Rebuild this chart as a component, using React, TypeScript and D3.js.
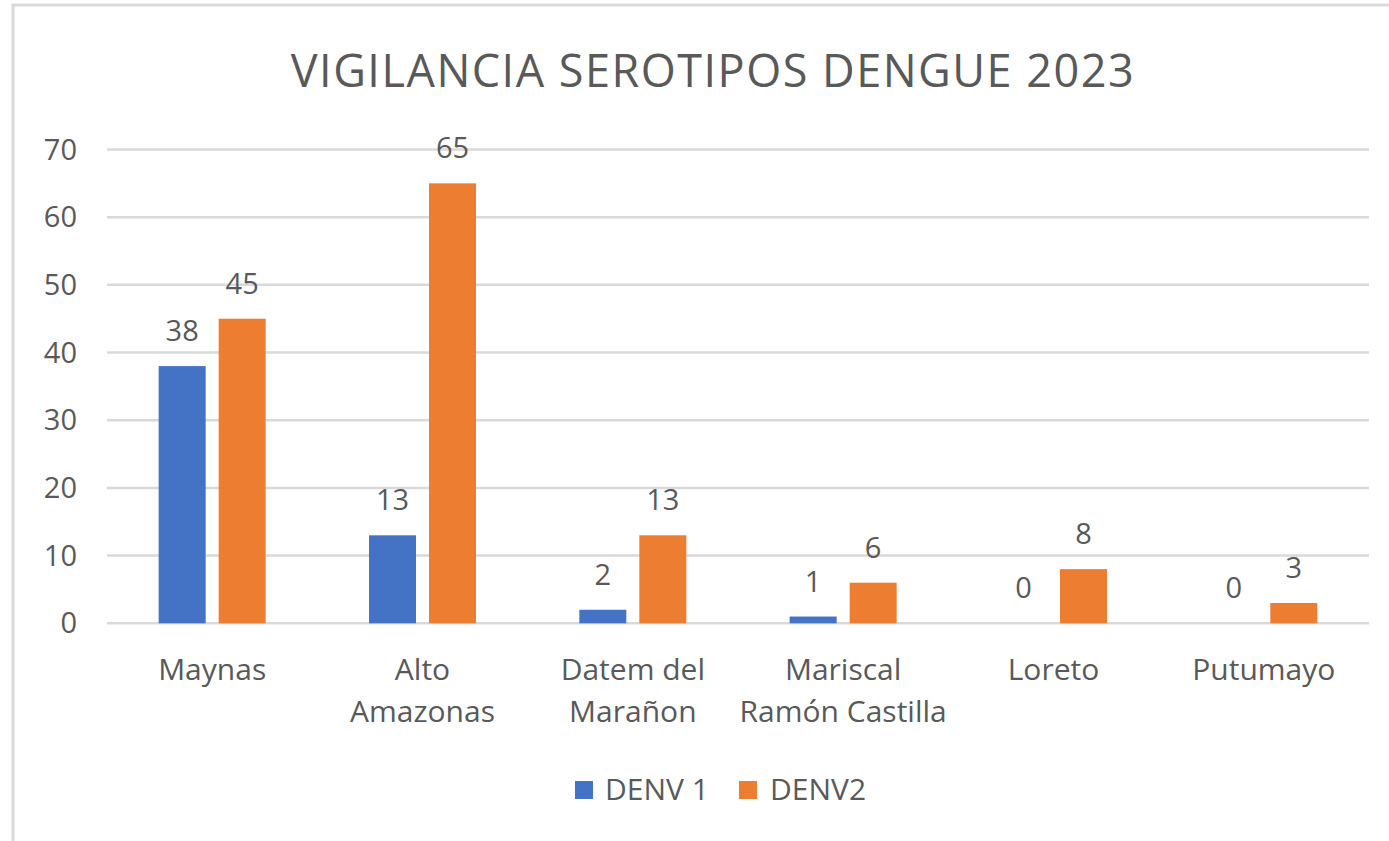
import React from "react";
import * as d3 from "d3";

const categories = [
  ["Maynas"],
  ["Alto", "Amazonas"],
  ["Datem del", "Marañon"],
  ["Mariscal", "Ramón Castilla"],
  ["Loreto"],
  ["Putumayo"],
];
const seriesNames = ["DENV 1", "DENV2"];
const denv1 = [38, 13, 2, 1, 0, 0];
const denv2 = [45, 65, 13, 6, 8, 3];
const yTicks = [0, 10, 20, 30, 40, 50, 60, 70];
const colors = ["#4472C4", "#ED7D31"];

const W = 1389;
const H = 841;
const PLOT = { left: 107, right: 1369, top: 149.5, bottom: 623.3 };
const FONT = "'Open Sans', 'Noto Sans', sans-serif";
const TEXT = "#595959";
const GRID = "#D9D9D9";

export default function App() {
  const keys = categories.map((c) => c.join(" "));
  const x = d3.scaleBand().domain(keys).range([PLOT.left, PLOT.right]);
  const bw = x.bandwidth();
  const x1 = d3
    .scaleBand()
    .domain(seriesNames)
    .range([bw / 2 - 53.5, bw / 2 + 53.5])
    .paddingInner(13 / 60);
  const y = d3.scaleLinear().domain([0, 70]).range([PLOT.bottom, PLOT.top]);
  const values = [denv1, denv2];

  return (
    <svg
      width={W}
      height={H}
      style={{ position: "absolute", left: 0, top: 0, background: "#fff" }}
      fontFamily={FONT}
    >
      <rect x={13} y={5} width={W + 20} height={H + 20} fill="#fff" stroke={GRID} strokeWidth={3} />
      <text x={713} y={87} textAnchor="middle" fontSize={45} letterSpacing={1.5} fill={TEXT}>
        VIGILANCIA SEROTIPOS DENGUE 2023
      </text>

      {yTicks.map((t) => (
        <g key={t}>
          <line x1={PLOT.left} x2={PLOT.right} y1={y(t)} y2={y(t)} stroke={GRID} strokeWidth={2.5} />
          <text x={77} y={y(t)} dy="0.35em" textAnchor="end" fontSize={29} fill={TEXT}>
            {t}
          </text>
        </g>
      ))}

      {keys.map((k, i) => (
        <g key={k} transform={`translate(${x(k)},0)`}>
          {seriesNames.map((s, j) => {
            const v = values[j][i];
            const bx = x1(s)!;
            return (
              <g key={s}>
                {v > 0 && (
                  <rect x={bx} width={x1.bandwidth()} y={y(v)} height={y(0) - y(v)} fill={colors[j]} />
                )}
                <text
                  x={bx + x1.bandwidth() / 2}
                  y={y(v) - 25}
                  textAnchor="middle"
                  fontSize={29}
                  fill={TEXT}
                >
                  {v}
                </text>
              </g>
            );
          })}
          {categories[i].map((line, li) => (
            <text key={li} x={bw / 2} y={680 + li * 42} textAnchor="middle" fontSize={30} fill={TEXT}>
              {line}
            </text>
          ))}
        </g>
      ))}

      <g>
        <rect x={575} y={781} width={18} height={18} fill={colors[0]} />
        <text x={605} y={800} fontSize={30} fill={TEXT}>
          {seriesNames[0]}
        </text>
        <rect x={739} y={781} width={18} height={18} fill={colors[1]} />
        <text x={770} y={800} fontSize={30} fill={TEXT}>
          {seriesNames[1]}
        </text>
      </g>
    </svg>
  );
}
